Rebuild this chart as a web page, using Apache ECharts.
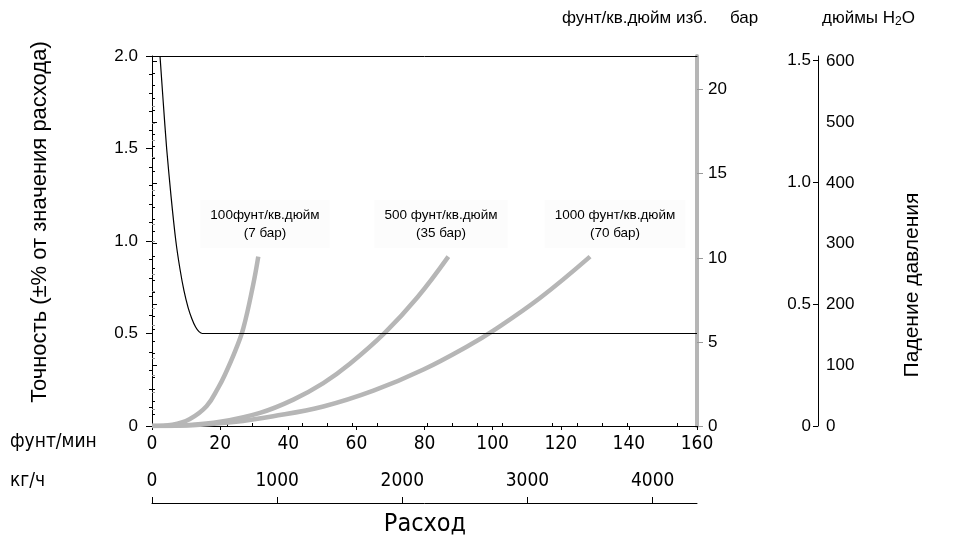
<!DOCTYPE html>
<html><head><meta charset="utf-8">
<script src="https://cdn.jsdelivr.net/npm/echarts@6/dist/echarts.min.js"></script>
<style>html,body{margin:0;padding:0;background:#fff}#c{width:957px;height:537px}</style>
</head><body><div id="c"></div>
<script>
// ---- data ----
const flowLbMinTicks = [0, 20, 40, 60, 80, 100, 120, 140, 160];
const flowKgHTicks = [0, 1000, 2000, 3000, 4000];
const accuracyTicks = [0, 0.5, 1.0, 1.5, 2.0];
const psiTicks = [0, 5, 10, 15, 20];
const barTicks = [0, 0.5, 1.0, 1.5];
const inH2OTicks = [0, 100, 200, 300, 400, 500, 600];

// accuracy curve (% of rate) vs flow (lb/min)
const accuracyFlow = [2.35, 3.3, 4.3, 5.6, 7.0, 8.2, 9.4, 10.6, 11.7, 12.8, 13.8, 14.8, 160];
const accuracyVal  = [2.0, 1.75, 1.5, 1.24, 1.0, 0.85, 0.73, 0.64, 0.58, 0.535, 0.51, 0.5, 0.5];

// pressure drop curves (psi) vs flow (lb/min)
const dp100Flow = [0, 6, 11, 16, 19.5, 21.4, 24.5, 26.8, 29.7, 31.2];
const dp100Psi  = [0, 0.08, 0.4, 1.17, 2.3, 3.05, 4.5, 5.8, 8.4, 10.07];
const dp500Flow = [0, 10, 20, 31.7, 41.5, 50.3, 58.1, 68.4, 78, 87];
const dp500Psi  = [0, 0.05, 0.25, 0.78, 1.57, 2.55, 3.7, 5.55, 7.67, 10.07];
const dp1000Flow = [0, 12, 24, 35.6, 50.3, 65, 79.7, 93.4, 100.2, 113.9, 128.6];
const dp1000Psi  = [0, 0.05, 0.24, 0.58, 1.16, 2.1, 3.36, 4.83, 5.67, 7.61, 10.07];

const curveLabels = ['100фунт/кв.дюйм\n(7 бар)', '500 фунт/кв.дюйм\n(35 бар)', '1000 фунт/кв.дюйм\n(70 бар)'];

// unit conversions
const KGH_PER_LBMIN = 27.2155;
const PSI_PER_BAR = 14.5038;
const INH2O_PER_PSI = 27.68;
const FLOW_MAX = 160, PSI_MAX = 22;

function zip(a, b) { return a.map((v, i) => [v, b[i]]); }
function minorVals(step, max, majorStep) {
  const out = [];
  for (let v = step; v <= max + 1e-9; v += step) {
    if (Math.abs(v / majorStep - Math.round(v / majorStep)) > 1e-6) out.push(Math.round(v * 1000) / 1000);
  }
  return out;
}

const FONT = 'Liberation Sans, Arial, Helvetica, sans-serif';
const NARROW = '"Liberation Sans Narrow", "Arial Narrow", "DejaVu Sans Condensed", "Liberation Sans", sans-serif';
const GRAY = '#b6b6b6';
const chart = echarts.init(document.getElementById('c'), null, {renderer: 'canvas'});

const lbl = (extra) => Object.assign({color: '#000', fontFamily: FONT, fontSize: 17}, extra || {});

chart.setOption({
  animation: false,
  backgroundColor: '#fff',
  grid: {left: 152, right: 260, top: 56, bottom: 111, containLabel: false},
  xAxis: [
    {type: 'value', position: 'bottom', min: 0, max: FLOW_MAX, interval: 20,
     axisLine: {show: true, onZero: false, lineStyle: {color: '#000', width: 1}},
     axisTick: {show: true, length: 4, lineStyle: {color: '#000'}},
     axisLabel: lbl({margin: 9, fontFamily: NARROW, fontSize: 19}), splitLine: {show: false}},
    {type: 'value', position: 'bottom', offset: 77, min: 0, max: FLOW_MAX * KGH_PER_LBMIN,
     axisLine: {show: true, onZero: false, lineStyle: {color: '#000', width: 1}},
     axisTick: {show: true, inside: true, length: 6, customValues: flowKgHTicks, lineStyle: {color: '#000'}},
     axisLabel: lbl({inside: true, margin: 12, fontFamily: NARROW, fontSize: 19, customValues: flowKgHTicks, formatter: v => String(v)}),
     splitLine: {show: false}},
    {type: 'value', position: 'bottom', offset: 77, min: 0, max: FLOW_MAX * KGH_PER_LBMIN,
     axisLine: {show: false},
     axisTick: {show: true, inside: true, length: 3, customValues: minorVals(200, 4200, 1000), lineStyle: {color: '#000'}},
     axisLabel: {show: false}, splitLine: {show: false}},
    {type: 'value', position: 'top', min: 0, max: FLOW_MAX,
     axisLine: {show: true, onZero: false, lineStyle: {color: '#000', width: 1}},
     axisTick: {show: false}, axisLabel: {show: false}, splitLine: {show: false}}
  ],
  yAxis: [
    {type: 'value', position: 'left', min: 0, max: 2, interval: 0.5,
     axisLine: {show: true, onZero: false, lineStyle: {color: '#000', width: 1}},
     axisTick: {show: true, length: 6, lineStyle: {color: '#000'}},
     minorTick: {show: true, splitNumber: 5, length: 3, lineStyle: {color: '#000'}},
     axisLabel: lbl({margin: 14, formatter: v => v === 0 ? '0' : v.toFixed(1)}),
     splitLine: {show: false}},
    {type: 'value', position: 'right', min: 0, max: PSI_MAX,
     axisLine: {show: true, onZero: false, lineStyle: {color: GRAY, width: 4}},
     axisTick: {show: true, length: 6, customValues: psiTicks, lineStyle: {color: '#999'}},
     axisLabel: lbl({margin: 11, customValues: psiTicks}), splitLine: {show: false}},
    {type: 'value', position: 'right', min: 0, max: PSI_MAX,
     axisLine: {show: false},
     axisTick: {show: true, length: 3, customValues: minorVals(1, 21, 5), lineStyle: {color: '#999'}},
     axisLabel: {show: false}, splitLine: {show: false}},
    {type: 'value', position: 'right', offset: 121, min: 0, max: PSI_MAX / PSI_PER_BAR,
     axisLine: {show: true, onZero: false, lineStyle: {color: '#000', width: 1}},
     axisTick: {show: true, inside: true, length: 5, customValues: barTicks, lineStyle: {color: '#000'}},
     axisLabel: lbl({inside: true, margin: 7, customValues: barTicks, formatter: v => v === 0 ? '0' : v.toFixed(1)}),
     splitLine: {show: false}},
    {type: 'value', position: 'right', offset: 121, min: 0, max: PSI_MAX * INH2O_PER_PSI,
     axisLine: {show: false},
     axisTick: {show: true, length: 5, customValues: inH2OTicks, lineStyle: {color: '#000'}},
     axisLabel: lbl({margin: 8, customValues: inH2OTicks}), splitLine: {show: false}},
    {type: 'value', position: 'right', offset: 121, min: 0, max: PSI_MAX * INH2O_PER_PSI,
     axisLine: {show: false},
     axisTick: {show: true, length: 3, customValues: minorVals(20, 600, 100), lineStyle: {color: '#000'}},
     axisLabel: {show: false}, splitLine: {show: false}}
  ],
  series: [
    {type: 'line', name: 'dp100', xAxisIndex: 0, yAxisIndex: 1, data: zip(dp100Flow, dp100Psi),
     smooth: 0.4, symbol: 'none', lineStyle: {color: GRAY, width: 4.5}, z: 2},
    {type: 'line', name: 'dp500', xAxisIndex: 0, yAxisIndex: 1, data: zip(dp500Flow, dp500Psi),
     smooth: 0.4, symbol: 'none', lineStyle: {color: GRAY, width: 4.5}, z: 2},
    {type: 'line', name: 'dp1000', xAxisIndex: 0, yAxisIndex: 1, data: zip(dp1000Flow, dp1000Psi),
     smooth: 0.4, symbol: 'none', lineStyle: {color: GRAY, width: 4.5}, z: 2},
    {type: 'line', name: 'accuracy', xAxisIndex: 0, yAxisIndex: 0, data: zip(accuracyFlow, accuracyVal),
     smooth: 0.25, symbol: 'none', lineStyle: {color: '#000', width: 1.2}, z: 3}
  ],
  graphic: [
    {type: 'text', x: 40, y: 222, rotation: Math.PI / 2,
     style: {text: 'Точность (±% от значения расхода)', font: '22px ' + FONT, fill: '#000', align: 'center', verticalAlign: 'middle'}},
    {type: 'text', x: 912, y: 285, rotation: Math.PI / 2,
     style: {text: 'Падение давления', font: '21px ' + FONT, fill: '#000', align: 'center', verticalAlign: 'middle'}},
    {type: 'text', x: 10, y: 442, style: {text: 'фунт/мин', font: '19px ' + NARROW, fill: '#000', align: 'left', verticalAlign: 'middle'}},
    {type: 'text', x: 10, y: 481, style: {text: 'кг/ч', font: '19px ' + NARROW, fill: '#000', align: 'left', verticalAlign: 'middle'}},
    {type: 'text', x: 425, y: 524, style: {text: 'Расход', font: '25px ' + NARROW, fill: '#000', align: 'center', verticalAlign: 'middle'}},
    {type: 'text', x: 562, y: 18, style: {text: 'фунт/кв.дюйм изб.', font: '17px ' + FONT, fill: '#000', align: 'left', verticalAlign: 'middle'}},
    {type: 'text', x: 730, y: 18, style: {text: 'бар', font: '17px ' + FONT, fill: '#000', align: 'left', verticalAlign: 'middle'}},
    {type: 'text', x: 822, y: 18, style: {text: '{a|дюймы H}{s|2}{a|O}', fill: '#000', align: 'left', verticalAlign: 'middle',
      rich: {a: {font: '17px ' + FONT, fill: '#000', verticalAlign: 'middle'},
             s: {font: '12px ' + FONT, fill: '#000', padding: [8, 0, 0, 0], verticalAlign: 'middle'}}}},
    {type: 'text', x: 265, y: 224, z: 10, style: {text: curveLabels[0], font: '13.5px ' + FONT, fill: '#000', align: 'center', verticalAlign: 'middle', lineHeight: 18, backgroundColor: '#fcfcfc', padding: [6, 10, 6, 10]}},
    {type: 'text', x: 441, y: 224, z: 10, style: {text: curveLabels[1], font: '13.5px ' + FONT, fill: '#000', align: 'center', verticalAlign: 'middle', lineHeight: 18, backgroundColor: '#fcfcfc', padding: [6, 10, 6, 10]}},
    {type: 'text', x: 615, y: 224, z: 10, style: {text: curveLabels[2], font: '13.5px ' + FONT, fill: '#000', align: 'center', verticalAlign: 'middle', lineHeight: 18, backgroundColor: '#fcfcfc', padding: [6, 10, 6, 10]}}
  ]
});
</script>
</body></html>
